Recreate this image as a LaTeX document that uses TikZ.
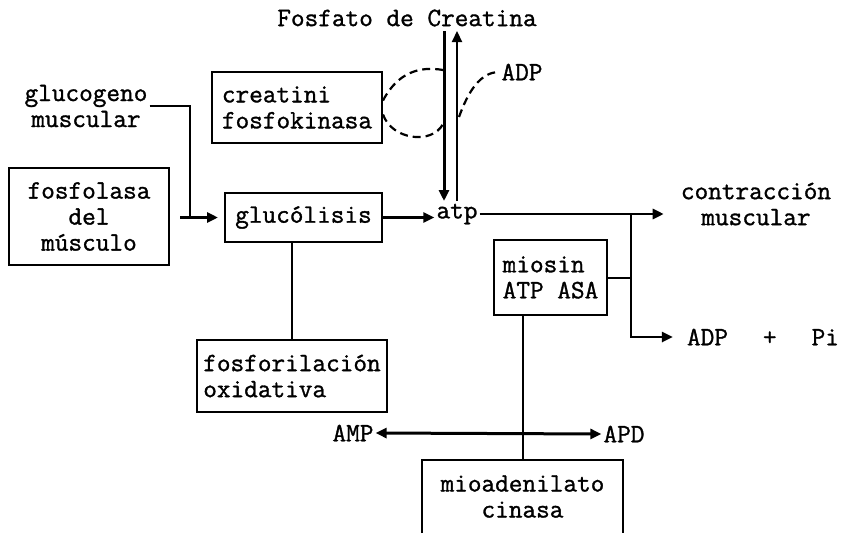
\documentclass[tikz,border=0pt]{standalone}
\usepackage{fontspec}
\setmainfont{Latin Modern Mono}[FakeBold=1.2]
\usetikzlibrary{arrows.meta}
\tikzstyle{bx}=[draw, line width=2pt, inner sep=0]
\tikzstyle{lbl}=[inner sep=2pt]
\tikzstyle{ln}=[line width=2pt]
\tikzstyle{arr}=[line width=2.8pt, ->]
\tikzstyle{dsh}=[line width=2.2pt, dash pattern=on 8pt off 5pt]

\begin{document}
\begin{tikzpicture}[x=1pt, y=-1pt, >={Triangle[length=11pt,width=10pt]}, font=\fontsize{26.5}{26}\selectfont]
\useasboundingbox (0,0) rectangle (849,533);
\node at (407,18)[lbl](fosfato){Fosfato de Creatina};
\node at (86,106)[lbl, align=center](gluco){glucogeno\\muscular};
\node at (89,216.5)[bx, minimum width=160, minimum height=97, align=center](fosf){fosfolasa\\del\\músculo};
\node at (297,107.5)[bx, minimum width=170, minimum height=71, align=left](creat){creatini\\fosfokinasa};
\node at (303.5,217.5)[bx, minimum width=157, minimum height=49](gluc){glucólisis};
\node at (457,214)[lbl](atp){atp};
\node at (756,204)[lbl, align=center](contr){contracción\\muscular};
\node at (550.5,277.5)[bx, minimum width=113, minimum height=75, align=left](mios){miosin\\ATP ASA};
\node at (763,337)[lbl](adp){ADP\hspace{35pt}+\hspace{35pt}Pi};
\node at (292,376)[bx, minimum width=190, minimum height=72, align=left](fosfor){fosforilación\\oxidativa};
\node at (353,433)[lbl](amp){AMP};
\node at (624,434)[lbl](apd){APD};
\node at (522.5,496.5)[minimum width=201, minimum height=73, inner sep=0, align=center](mioad){mioadenilato\\cinasa};
\node at (522,72)[lbl](adpc){ADP};
\coordinate (ct1) at (444,31);
\coordinate (ct2) at (444,201);
\coordinate (ct3) at (457,201);
\coordinate (ct4) at (457,31);
\coordinate (d1) at (443,70);
\coordinate (d2) at (443,124);
\coordinate (d3) at (459,117);
\coordinate (g0) at (180,217.5);
\coordinate (g1) at (190,217.5);
\coordinate (jn) at (631,214);
\draw[line width=2pt] (mioad.south west)--(mioad.north west)--(mioad.north east)--(mioad.south east);
\draw[arr, line width=3pt] (ct1)--(ct2);
\draw[arr, line width=2.2pt] (ct3)--(ct4);
\draw[dsh] ([yshift=7pt]creat.east) .. controls (398,72) and (420,66) .. (d1);
\draw[dsh] ([yshift=-7pt]creat.east) .. controls (392,140) and (432,145) .. (d2);
\draw[dsh] (d3) .. controls (468,92) and (480,72) .. (adpc.west);
\draw[ln, line width=2.4pt] (gluco.east) -| (g1);
\draw[arr, shorten >=6pt] (g0)--(gluc.west);
\draw[arr] (gluc.east)--(gluc.east -| atp.west);
\draw[arr, shorten >=15pt] (atp.east)--(atp.east -| contr.west);
\draw[arr, shorten >=12pt] (jn) |- (adp.west);
\draw[ln] (mios.east)--(mios.east -| jn);
\draw[ln] (fosfor.north |- gluc.south)--(fosfor.north);
\draw[ln] (mios.south -| mioad.north)--(mioad.north);
\draw[arr, <->, line width=3pt] (amp.east)--(apd.west);
\end{tikzpicture}
\end{document}
